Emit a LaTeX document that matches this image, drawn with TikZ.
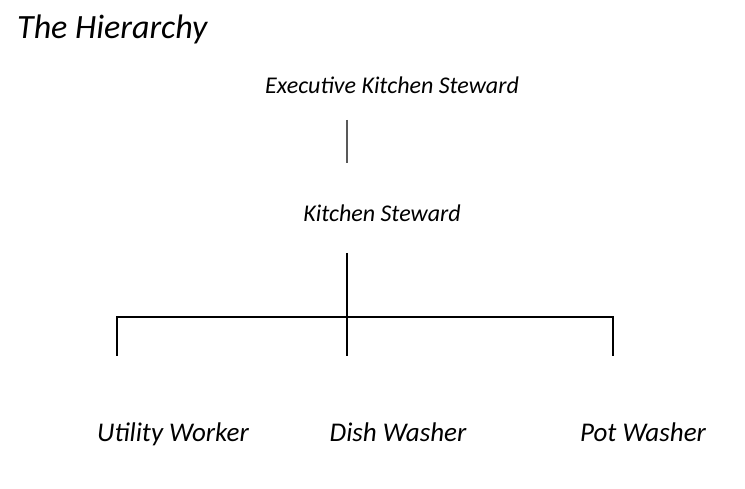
\documentclass[tikz,border=0pt]{standalone}
\usepackage{fontspec}
\setmainfont{Carlito}
\begin{document}
\begin{tikzpicture}[x=1pt,y=-1pt,
  lbl/.style={font=\fontsize{24}{28}\selectfont\itshape, inner sep=0, anchor=base},
  blbl/.style={font=\fontsize{27}{31}\selectfont\itshape, inner sep=0, anchor=base},
  ln/.style={line width=1.6pt}]
\useasboundingbox (0,0) rectangle (745,489);
\node[anchor=base west, inner sep=0, font=\fontsize{34}{39}\selectfont\itshape] (title) at (17,39) {The Hierarchy};
\node[lbl] (eks) at (392,94) {Executive Kitchen Steward};
\node[lbl] (ks) at (382,222) {Kitchen Steward};
\node[blbl] (uw) at (173,441) {Utility Worker};
\node[blbl] (dw) at (398,441) {Dish Washer};
\node[blbl] (pw) at (643,441) {Pot Washer};
\coordinate (g1) at (347,120); \coordinate (g2) at (347,163);
\draw[ln, gray!70!black] (g1) -- (g2);
\coordinate (k1) at (347,253); \coordinate (k2) at (347,356);
\draw[ln] (k1) -- (k2);
\coordinate (l1) at (117,356); \coordinate (l2) at (117,317);
\coordinate (r1) at (613,317); \coordinate (r2) at (613,356);
\draw[ln] (l1) -- (l2) -- (r1) -- (r2);
\end{tikzpicture}
\end{document}
